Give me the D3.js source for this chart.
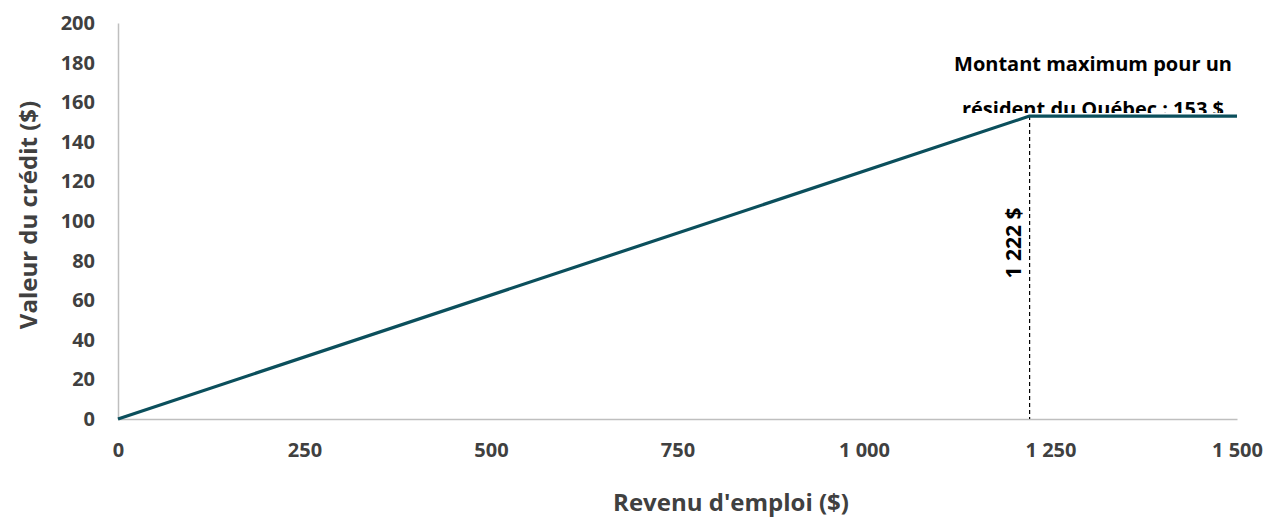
<!DOCTYPE html>
<html><head><meta charset="utf-8">
<script src="https://cdn.jsdelivr.net/npm/d3@7"></script>
<style>body{margin:0;background:#fff}svg{display:block}</style>
</head><body>
<svg id="c" width="1265" height="519"></svg>
<script>
const revenu = [0, 1222, 1500];
const credit = [0, 153, 153];
const xTicks = [0, 250, 500, 750, 1000, 1250, 1500];
const yTicks = [0, 20, 40, 60, 80, 100, 120, 140, 160, 180, 200];
const seuil = 1222;
const maximum = 153;
const annot = ["Montant maximum pour un", "résident du Québec : 153 $"];
const seuilLabel = "1 222 $";

const svg = d3.select("#c");
const font = "'Open Sans', sans-serif";
const x = d3.scaleLinear().domain([0, 1500]).range([118, 1237]);
const y = d3.scaleLinear().domain([0, 200]).range([419, 23]);
const fmt = v => d3.format(",")(v).replace(/,/g, " ");

// axes
const xa = svg.append("g").attr("transform", `translate(0,${y(0)})`)
  .call(d3.axisBottom(x).tickValues(xTicks).tickSize(0).tickPadding(24).tickFormat(fmt));
const ya = svg.append("g").attr("transform", `translate(${x(0)},0)`)
  .call(d3.axisLeft(y).tickValues(yTicks).tickSize(0).tickPadding(23));
[xa, ya].forEach(a => {
  a.select(".domain").attr("stroke", "#bfbfbf").attr("stroke-width", 1.5);
  a.selectAll("text").attr("font-family", font).attr("font-weight", "bold")
   .attr("font-size", 20).attr("fill", "#404040");
});
xa.selectAll("text").attr("dy", "0.71em");

// dashed line
svg.append("line").attr("x1", x(seuil)).attr("x2", x(seuil))
  .attr("y1", y(maximum)).attr("y2", y(0))
  .attr("stroke", "#000").attr("stroke-width", 1.2).attr("stroke-dasharray", "4,3");

// annotation text (clipped above the line)
svg.append("clipPath").attr("id", "clipA").append("rect")
  .attr("x", 0).attr("y", 0).attr("width", 1265).attr("height", y(maximum) - 3);
const ann = svg.append("text").attr("clip-path", "url(#clipA)")
  .attr("font-family", font).attr("font-weight", "bold").attr("font-size", 20)
  .attr("fill", "#000").attr("text-anchor", "middle");
ann.selectAll("tspan").data(annot).join("tspan")
  .attr("x", 1093).attr("y", (d, i) => 71 + i * 45).text(d => d);

// line
const line = d3.line().x((d, i) => x(revenu[i])).y(d => y(d));
svg.append("path").datum(credit).attr("d", line)
  .attr("fill", "none").attr("stroke", "#0b4f5c").attr("stroke-width", 3.2)
  .attr("stroke-linejoin", "round");

// rotated seuil label
svg.append("text").attr("transform", `translate(${x(seuil) - 9},${243}) rotate(-90)`)
  .attr("text-anchor", "middle").attr("font-family", font).attr("font-weight", "bold")
  .attr("font-size", 21).attr("fill", "#000").text(seuilLabel);

// axis titles
svg.append("text").attr("x", 731).attr("y", 511).attr("text-anchor", "middle")
  .attr("font-family", font).attr("font-weight", "bold").attr("font-size", 24)
  .attr("fill", "#404040").text("Revenu d'emploi ($)");
svg.append("text").attr("transform", "translate(37,215) rotate(-90)")
  .attr("text-anchor", "middle").attr("font-family", font).attr("font-weight", "bold")
  .attr("font-size", 24).attr("fill", "#404040").text("Valeur du crédit ($)");
</script>
</body></html>
